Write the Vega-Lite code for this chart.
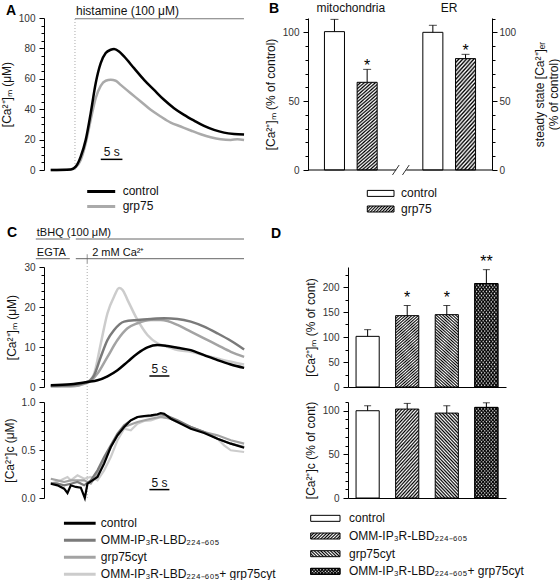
{
"$schema":"https://vega.github.io/schema/vega-lite/v6.json",
"padding":{"left":0,"top":1,"right":0,"bottom":0},
"bounds":"flush",
"spacing":264,
"config":{
 "font":"Liberation Sans",
 "view":{"stroke":null},
 "axis":{"domainColor":"#000","tickColor":"#000","labelColor":"#333","labelFontSize":10,"titleFontSize":12,"titleFontWeight":"normal","titleColor":"#111","grid":false,"labelPadding":4,"tickSize":5,"titlePadding":5,"labelOverlap":false,"labelBound":false},
 "title":{"fontSize":14,"fontWeight":"bold","anchor":"start","frame":"group","color":"#000"},
 "text":{"fontSize":12,"color":"#111"},
 "legend":{"labelFontSize":12,"labelColor":"#111","symbolStrokeWidth":3,"padding":0,"rowPadding":0,"labelLimit":400},
 "style":{
  "hatchB":{"color":{"gradient":"linear","x1":0,"y1":0,"x2":0.2308,"y2":1.1538,"stops":[{"offset":0,"color":"#000"},{"offset":0.016,"color":"#fff"},{"offset":0.031,"color":"#000"},{"offset":0.047,"color":"#fff"},{"offset":0.063,"color":"#000"},{"offset":0.078,"color":"#fff"},{"offset":0.094,"color":"#000"},{"offset":0.109,"color":"#fff"},{"offset":0.125,"color":"#000"},{"offset":0.141,"color":"#fff"},{"offset":0.156,"color":"#000"},{"offset":0.172,"color":"#fff"},{"offset":0.188,"color":"#000"},{"offset":0.203,"color":"#fff"},{"offset":0.219,"color":"#000"},{"offset":0.234,"color":"#fff"},{"offset":0.25,"color":"#000"},{"offset":0.266,"color":"#fff"},{"offset":0.281,"color":"#000"},{"offset":0.297,"color":"#fff"},{"offset":0.313,"color":"#000"},{"offset":0.328,"color":"#fff"},{"offset":0.344,"color":"#000"},{"offset":0.359,"color":"#fff"},{"offset":0.375,"color":"#000"},{"offset":0.391,"color":"#fff"},{"offset":0.406,"color":"#000"},{"offset":0.422,"color":"#fff"},{"offset":0.438,"color":"#000"},{"offset":0.453,"color":"#fff"},{"offset":0.469,"color":"#000"},{"offset":0.484,"color":"#fff"},{"offset":0.5,"color":"#000"},{"offset":0.516,"color":"#fff"},{"offset":0.531,"color":"#000"},{"offset":0.547,"color":"#fff"},{"offset":0.563,"color":"#000"},{"offset":0.578,"color":"#fff"},{"offset":0.594,"color":"#000"},{"offset":0.609,"color":"#fff"},{"offset":0.625,"color":"#000"},{"offset":0.641,"color":"#fff"},{"offset":0.656,"color":"#000"},{"offset":0.672,"color":"#fff"},{"offset":0.688,"color":"#000"},{"offset":0.703,"color":"#fff"},{"offset":0.719,"color":"#000"},{"offset":0.734,"color":"#fff"},{"offset":0.75,"color":"#000"},{"offset":0.766,"color":"#fff"},{"offset":0.781,"color":"#000"},{"offset":0.797,"color":"#fff"},{"offset":0.813,"color":"#000"},{"offset":0.828,"color":"#fff"},{"offset":0.844,"color":"#000"},{"offset":0.859,"color":"#fff"},{"offset":0.875,"color":"#000"},{"offset":0.891,"color":"#fff"},{"offset":0.906,"color":"#000"},{"offset":0.922,"color":"#fff"},{"offset":0.938,"color":"#000"},{"offset":0.953,"color":"#fff"},{"offset":0.969,"color":"#000"},{"offset":0.984,"color":"#fff"},{"offset":1,"color":"#000"}]}},
  "hatchF":{"color":{"gradient":"linear","x1":0,"y1":0,"x2":0.3435,"y2":1.1896,"stops":[{"offset":0,"color":"#000"},{"offset":0.016,"color":"#fff"},{"offset":0.031,"color":"#000"},{"offset":0.047,"color":"#fff"},{"offset":0.063,"color":"#000"},{"offset":0.078,"color":"#fff"},{"offset":0.094,"color":"#000"},{"offset":0.109,"color":"#fff"},{"offset":0.125,"color":"#000"},{"offset":0.141,"color":"#fff"},{"offset":0.156,"color":"#000"},{"offset":0.172,"color":"#fff"},{"offset":0.188,"color":"#000"},{"offset":0.203,"color":"#fff"},{"offset":0.219,"color":"#000"},{"offset":0.234,"color":"#fff"},{"offset":0.25,"color":"#000"},{"offset":0.266,"color":"#fff"},{"offset":0.281,"color":"#000"},{"offset":0.297,"color":"#fff"},{"offset":0.313,"color":"#000"},{"offset":0.328,"color":"#fff"},{"offset":0.344,"color":"#000"},{"offset":0.359,"color":"#fff"},{"offset":0.375,"color":"#000"},{"offset":0.391,"color":"#fff"},{"offset":0.406,"color":"#000"},{"offset":0.422,"color":"#fff"},{"offset":0.438,"color":"#000"},{"offset":0.453,"color":"#fff"},{"offset":0.469,"color":"#000"},{"offset":0.484,"color":"#fff"},{"offset":0.5,"color":"#000"},{"offset":0.516,"color":"#fff"},{"offset":0.531,"color":"#000"},{"offset":0.547,"color":"#fff"},{"offset":0.563,"color":"#000"},{"offset":0.578,"color":"#fff"},{"offset":0.594,"color":"#000"},{"offset":0.609,"color":"#fff"},{"offset":0.625,"color":"#000"},{"offset":0.641,"color":"#fff"},{"offset":0.656,"color":"#000"},{"offset":0.672,"color":"#fff"},{"offset":0.688,"color":"#000"},{"offset":0.703,"color":"#fff"},{"offset":0.719,"color":"#000"},{"offset":0.734,"color":"#fff"},{"offset":0.75,"color":"#000"},{"offset":0.766,"color":"#fff"},{"offset":0.781,"color":"#000"},{"offset":0.797,"color":"#fff"},{"offset":0.813,"color":"#000"},{"offset":0.828,"color":"#fff"},{"offset":0.844,"color":"#000"},{"offset":0.859,"color":"#fff"},{"offset":0.875,"color":"#000"},{"offset":0.891,"color":"#fff"},{"offset":0.906,"color":"#000"},{"offset":0.922,"color":"#fff"},{"offset":0.938,"color":"#000"},{"offset":0.953,"color":"#fff"},{"offset":0.969,"color":"#000"},{"offset":0.984,"color":"#fff"},{"offset":1,"color":"#000"}]}},
  "hatchBk":{"color":{"gradient":"linear","x1":0,"y1":1,"x2":0.3435,"y2":-0.1896,"stops":[{"offset":0,"color":"#000"},{"offset":0.016,"color":"#fff"},{"offset":0.031,"color":"#000"},{"offset":0.047,"color":"#fff"},{"offset":0.063,"color":"#000"},{"offset":0.078,"color":"#fff"},{"offset":0.094,"color":"#000"},{"offset":0.109,"color":"#fff"},{"offset":0.125,"color":"#000"},{"offset":0.141,"color":"#fff"},{"offset":0.156,"color":"#000"},{"offset":0.172,"color":"#fff"},{"offset":0.188,"color":"#000"},{"offset":0.203,"color":"#fff"},{"offset":0.219,"color":"#000"},{"offset":0.234,"color":"#fff"},{"offset":0.25,"color":"#000"},{"offset":0.266,"color":"#fff"},{"offset":0.281,"color":"#000"},{"offset":0.297,"color":"#fff"},{"offset":0.313,"color":"#000"},{"offset":0.328,"color":"#fff"},{"offset":0.344,"color":"#000"},{"offset":0.359,"color":"#fff"},{"offset":0.375,"color":"#000"},{"offset":0.391,"color":"#fff"},{"offset":0.406,"color":"#000"},{"offset":0.422,"color":"#fff"},{"offset":0.438,"color":"#000"},{"offset":0.453,"color":"#fff"},{"offset":0.469,"color":"#000"},{"offset":0.484,"color":"#fff"},{"offset":0.5,"color":"#000"},{"offset":0.516,"color":"#fff"},{"offset":0.531,"color":"#000"},{"offset":0.547,"color":"#fff"},{"offset":0.563,"color":"#000"},{"offset":0.578,"color":"#fff"},{"offset":0.594,"color":"#000"},{"offset":0.609,"color":"#fff"},{"offset":0.625,"color":"#000"},{"offset":0.641,"color":"#fff"},{"offset":0.656,"color":"#000"},{"offset":0.672,"color":"#fff"},{"offset":0.688,"color":"#000"},{"offset":0.703,"color":"#fff"},{"offset":0.719,"color":"#000"},{"offset":0.734,"color":"#fff"},{"offset":0.75,"color":"#000"},{"offset":0.766,"color":"#fff"},{"offset":0.781,"color":"#000"},{"offset":0.797,"color":"#fff"},{"offset":0.813,"color":"#000"},{"offset":0.828,"color":"#fff"},{"offset":0.844,"color":"#000"},{"offset":0.859,"color":"#fff"},{"offset":0.875,"color":"#000"},{"offset":0.891,"color":"#fff"},{"offset":0.906,"color":"#000"},{"offset":0.922,"color":"#fff"},{"offset":0.938,"color":"#000"},{"offset":0.953,"color":"#fff"},{"offset":0.969,"color":"#000"},{"offset":0.984,"color":"#fff"},{"offset":1,"color":"#000"}]}},
  "hatchBkT":{"color":{"gradient":"linear","x1":0,"y1":1,"x2":0.3435,"y2":-0.1896,"stops":[{"offset":0,"color":"#000"},{"offset":0.016,"color":"rgba(0,0,0,0)"},{"offset":0.031,"color":"#000"},{"offset":0.047,"color":"rgba(0,0,0,0)"},{"offset":0.063,"color":"#000"},{"offset":0.078,"color":"rgba(0,0,0,0)"},{"offset":0.094,"color":"#000"},{"offset":0.109,"color":"rgba(0,0,0,0)"},{"offset":0.125,"color":"#000"},{"offset":0.141,"color":"rgba(0,0,0,0)"},{"offset":0.156,"color":"#000"},{"offset":0.172,"color":"rgba(0,0,0,0)"},{"offset":0.188,"color":"#000"},{"offset":0.203,"color":"rgba(0,0,0,0)"},{"offset":0.219,"color":"#000"},{"offset":0.234,"color":"rgba(0,0,0,0)"},{"offset":0.25,"color":"#000"},{"offset":0.266,"color":"rgba(0,0,0,0)"},{"offset":0.281,"color":"#000"},{"offset":0.297,"color":"rgba(0,0,0,0)"},{"offset":0.313,"color":"#000"},{"offset":0.328,"color":"rgba(0,0,0,0)"},{"offset":0.344,"color":"#000"},{"offset":0.359,"color":"rgba(0,0,0,0)"},{"offset":0.375,"color":"#000"},{"offset":0.391,"color":"rgba(0,0,0,0)"},{"offset":0.406,"color":"#000"},{"offset":0.422,"color":"rgba(0,0,0,0)"},{"offset":0.438,"color":"#000"},{"offset":0.453,"color":"rgba(0,0,0,0)"},{"offset":0.469,"color":"#000"},{"offset":0.484,"color":"rgba(0,0,0,0)"},{"offset":0.5,"color":"#000"},{"offset":0.516,"color":"rgba(0,0,0,0)"},{"offset":0.531,"color":"#000"},{"offset":0.547,"color":"rgba(0,0,0,0)"},{"offset":0.563,"color":"#000"},{"offset":0.578,"color":"rgba(0,0,0,0)"},{"offset":0.594,"color":"#000"},{"offset":0.609,"color":"rgba(0,0,0,0)"},{"offset":0.625,"color":"#000"},{"offset":0.641,"color":"rgba(0,0,0,0)"},{"offset":0.656,"color":"#000"},{"offset":0.672,"color":"rgba(0,0,0,0)"},{"offset":0.688,"color":"#000"},{"offset":0.703,"color":"rgba(0,0,0,0)"},{"offset":0.719,"color":"#000"},{"offset":0.734,"color":"rgba(0,0,0,0)"},{"offset":0.75,"color":"#000"},{"offset":0.766,"color":"rgba(0,0,0,0)"},{"offset":0.781,"color":"#000"},{"offset":0.797,"color":"rgba(0,0,0,0)"},{"offset":0.813,"color":"#000"},{"offset":0.828,"color":"rgba(0,0,0,0)"},{"offset":0.844,"color":"#000"},{"offset":0.859,"color":"rgba(0,0,0,0)"},{"offset":0.875,"color":"#000"},{"offset":0.891,"color":"rgba(0,0,0,0)"},{"offset":0.906,"color":"#000"},{"offset":0.922,"color":"rgba(0,0,0,0)"},{"offset":0.938,"color":"#000"},{"offset":0.953,"color":"rgba(0,0,0,0)"},{"offset":0.969,"color":"#000"},{"offset":0.984,"color":"rgba(0,0,0,0)"},{"offset":1,"color":"#000"}]}},
  "legF":{"color":{"gradient":"linear","x1":0,"y1":0,"x2":1.161,"y2":0.2488,"stops":[{"offset":0,"color":"#000"},{"offset":0.045,"color":"#fff"},{"offset":0.091,"color":"#000"},{"offset":0.136,"color":"#fff"},{"offset":0.182,"color":"#000"},{"offset":0.227,"color":"#fff"},{"offset":0.273,"color":"#000"},{"offset":0.318,"color":"#fff"},{"offset":0.364,"color":"#000"},{"offset":0.409,"color":"#fff"},{"offset":0.455,"color":"#000"},{"offset":0.5,"color":"#fff"},{"offset":0.545,"color":"#000"},{"offset":0.591,"color":"#fff"},{"offset":0.636,"color":"#000"},{"offset":0.682,"color":"#fff"},{"offset":0.727,"color":"#000"},{"offset":0.773,"color":"#fff"},{"offset":0.818,"color":"#000"},{"offset":0.864,"color":"#fff"},{"offset":0.909,"color":"#000"},{"offset":0.955,"color":"#fff"},{"offset":1,"color":"#000"}]}},
  "legBk":{"color":{"gradient":"linear","x1":0,"y1":1,"x2":1.161,"y2":0.7512,"stops":[{"offset":0,"color":"#000"},{"offset":0.045,"color":"#fff"},{"offset":0.091,"color":"#000"},{"offset":0.136,"color":"#fff"},{"offset":0.182,"color":"#000"},{"offset":0.227,"color":"#fff"},{"offset":0.273,"color":"#000"},{"offset":0.318,"color":"#fff"},{"offset":0.364,"color":"#000"},{"offset":0.409,"color":"#fff"},{"offset":0.455,"color":"#000"},{"offset":0.5,"color":"#fff"},{"offset":0.545,"color":"#000"},{"offset":0.591,"color":"#fff"},{"offset":0.636,"color":"#000"},{"offset":0.682,"color":"#fff"},{"offset":0.727,"color":"#000"},{"offset":0.773,"color":"#fff"},{"offset":0.818,"color":"#000"},{"offset":0.864,"color":"#fff"},{"offset":0.909,"color":"#000"},{"offset":0.955,"color":"#fff"},{"offset":1,"color":"#000"}]}},
  "legBkT":{"color":{"gradient":"linear","x1":0,"y1":1,"x2":1.161,"y2":0.7512,"stops":[{"offset":0,"color":"#000"},{"offset":0.045,"color":"rgba(0,0,0,0)"},{"offset":0.091,"color":"#000"},{"offset":0.136,"color":"rgba(0,0,0,0)"},{"offset":0.182,"color":"#000"},{"offset":0.227,"color":"rgba(0,0,0,0)"},{"offset":0.273,"color":"#000"},{"offset":0.318,"color":"rgba(0,0,0,0)"},{"offset":0.364,"color":"#000"},{"offset":0.409,"color":"rgba(0,0,0,0)"},{"offset":0.455,"color":"#000"},{"offset":0.5,"color":"rgba(0,0,0,0)"},{"offset":0.545,"color":"#000"},{"offset":0.591,"color":"rgba(0,0,0,0)"},{"offset":0.636,"color":"#000"},{"offset":0.682,"color":"rgba(0,0,0,0)"},{"offset":0.727,"color":"#000"},{"offset":0.773,"color":"rgba(0,0,0,0)"},{"offset":0.818,"color":"#000"},{"offset":0.864,"color":"rgba(0,0,0,0)"},{"offset":0.909,"color":"#000"},{"offset":0.955,"color":"rgba(0,0,0,0)"},{"offset":1,"color":"#000"}]}}
 }
},
"datasets":{
 "A_histamine":[{"agent":"histamine (100 μM)","start":5.6,"end":44.6}],
 "A_scale":[{"t0":11.55,"t1":16.55,"label":"5 s"}],
 "A_traces":[
  {"series":"grp75","time":0,"ca":0},{"series":"grp75","time":4.62,"ca":0.4},{"series":"grp75","time":5.77,"ca":1.8},{"series":"grp75","time":6.92,"ca":6.6},{"series":"grp75","time":8.08,"ca":17.6},{"series":"grp75","time":9.23,"ca":33.0},{"series":"grp75","time":10.38,"ca":47.3},{"series":"grp75","time":11.54,"ca":55.4},{"series":"grp75","time":12.69,"ca":58.7},{"series":"grp75","time":13.85,"ca":59.3},{"series":"grp75","time":15,"ca":58.7},{"series":"grp75","time":16.15,"ca":56.0},{"series":"grp75","time":18.46,"ca":50.5},{"series":"grp75","time":20.77,"ca":45.1},{"series":"grp75","time":23.08,"ca":39.6},{"series":"grp75","time":25.38,"ca":35.2},{"series":"grp75","time":27.69,"ca":31.2},{"series":"grp75","time":30,"ca":28.6},{"series":"grp75","time":32.31,"ca":26.0},{"series":"grp75","time":34.62,"ca":23.5},{"series":"grp75","time":36.92,"ca":21.5},{"series":"grp75","time":39.23,"ca":20.2},{"series":"grp75","time":41.54,"ca":19.8},{"series":"grp75","time":43.08,"ca":20.2},{"series":"grp75","time":44.62,"ca":19.8},
  {"series":"control","time":0,"ca":0},{"series":"control","time":4.62,"ca":0.4},{"series":"control","time":5.77,"ca":2.2},{"series":"control","time":6.92,"ca":8.8},{"series":"control","time":8.08,"ca":19.8},{"series":"control","time":9.23,"ca":37.4},{"series":"control","time":10.38,"ca":57.1},{"series":"control","time":11.54,"ca":70.3},{"series":"control","time":12.69,"ca":76.9},{"series":"control","time":13.85,"ca":79.1},{"series":"control","time":14.62,"ca":79.6},{"series":"control","time":15.77,"ca":78.0},{"series":"control","time":16.92,"ca":74.7},{"series":"control","time":19.23,"ca":67.0},{"series":"control","time":21.54,"ca":59.3},{"series":"control","time":23.85,"ca":52.7},{"series":"control","time":26.15,"ca":46.2},{"series":"control","time":28.46,"ca":40.7},{"series":"control","time":30.77,"ca":36.3},{"series":"control","time":33.08,"ca":32.5},{"series":"control","time":35.38,"ca":29.0},{"series":"control","time":37.69,"ca":26.4},{"series":"control","time":40,"ca":24.6},{"series":"control","time":42.31,"ca":23.7},{"series":"control","time":44.62,"ca":23.3}
 ],
 "C_protocol":[{"row":"drug","label":"tBHQ (100 μM)","start":-3.75,"end":4.75},{"row":"drug","label":"","start":6.25,"end":48.3},{"row":"bath","label":"EGTA","start":-3.75,"end":4.75},{"row":"bath","label":"","start":6.25,"end":48.3}],
 "C_events":[{"row":"bath","label":"2 mM Ca²⁺","time":9.1}],
 "C_scale":[{"t0":24.65,"t1":29.65,"label":"5 s"}],
 "C1_traces":[
  {"series":"both","time":0,"ca":0.17},{"series":"both","time":5,"ca":0.17},{"series":"both","time":9.17,"ca":1.26},{"series":"both","time":10.83,"ca":3.35},{"series":"both","time":12.5,"ca":10.9},{"series":"both","time":14.17,"ca":18.44},{"series":"both","time":15.83,"ca":22.63},{"series":"both","time":17.08,"ca":24.73},{"series":"both","time":17.92,"ca":24.31},{"series":"both","time":19.17,"ca":21.79},{"series":"both","time":21.67,"ca":16.76},{"series":"both","time":24.17,"ca":12.99},{"series":"both","time":26.67,"ca":10.9},{"series":"both","time":29.17,"ca":10.06},{"series":"both","time":31.67,"ca":9.22},{"series":"both","time":35,"ca":8.8},{"series":"both","time":38.33,"ca":7.96},{"series":"both","time":41.67,"ca":7.12},{"series":"both","time":45,"ca":6.29},{"series":"both","time":48.33,"ca":5.62},
  {"series":"grp75cyt","time":0,"ca":0.25},{"series":"grp75cyt","time":5,"ca":0.17},{"series":"grp75cyt","time":9.17,"ca":1.01},{"series":"grp75cyt","time":11.67,"ca":3.35},{"series":"grp75cyt","time":14.17,"ca":7.54},{"series":"grp75cyt","time":16.67,"ca":11.74},{"series":"grp75cyt","time":19.17,"ca":14.67},{"series":"grp75cyt","time":21.67,"ca":15.93},{"series":"grp75cyt","time":25,"ca":16.76},{"series":"grp75cyt","time":27.5,"ca":16.76},{"series":"grp75cyt","time":29.17,"ca":16.51},{"series":"grp75cyt","time":31.67,"ca":15.51},{"series":"grp75cyt","time":35,"ca":13.83},{"series":"grp75cyt","time":38.33,"ca":12.15},{"series":"grp75cyt","time":41.67,"ca":10.48},{"series":"grp75cyt","time":45,"ca":8.8},{"series":"grp75cyt","time":48.33,"ca":7.54},
  {"series":"OMM","time":0,"ca":0.25},{"series":"OMM","time":5,"ca":0.42},{"series":"OMM","time":9.17,"ca":1.26},{"series":"OMM","time":10.83,"ca":2.93},{"series":"OMM","time":12.5,"ca":7.54},{"series":"OMM","time":14.17,"ca":11.74},{"series":"OMM","time":15.83,"ca":14.25},{"series":"OMM","time":18.33,"ca":16.35},{"series":"OMM","time":21.67,"ca":16.76},{"series":"OMM","time":25,"ca":17.02},{"series":"OMM","time":28.33,"ca":17.18},{"series":"OMM","time":31.67,"ca":17.02},{"series":"OMM","time":35,"ca":16.35},{"series":"OMM","time":38.33,"ca":15.09},{"series":"OMM","time":41.67,"ca":13.41},{"series":"OMM","time":45,"ca":11.57},{"series":"OMM","time":48.33,"ca":9.39},
  {"series":"control","time":0,"ca":0.42},{"series":"control","time":5,"ca":0.67},{"series":"control","time":9.17,"ca":1.26},{"series":"control","time":11.67,"ca":1.68},{"series":"control","time":14.17,"ca":2.68},{"series":"control","time":16.67,"ca":4.19},{"series":"control","time":19.17,"ca":6.29},{"series":"control","time":21.67,"ca":8.38},{"series":"control","time":24.17,"ca":9.89},{"series":"control","time":26.67,"ca":10.48},{"series":"control","time":29.17,"ca":10.23},{"series":"control","time":31.67,"ca":9.81},{"series":"control","time":35,"ca":9.22},{"series":"control","time":38.33,"ca":7.96},{"series":"control","time":41.67,"ca":6.71},{"series":"control","time":45,"ca":5.62},{"series":"control","time":48.33,"ca":4.78}
 ],
 "C2_traces":[
  {"series":"both","time":0,"ca":0.149},{"series":"both","time":2.5,"ca":0.184},{"series":"both","time":4.17,"ca":0.219},{"series":"both","time":5,"ca":0.184},{"series":"both","time":6.67,"ca":0.236},{"series":"both","time":8.33,"ca":0.201},{"series":"both","time":10,"ca":0.219},{"series":"both","time":11.67,"ca":0.184},{"series":"both","time":13.33,"ca":0.288},{"series":"both","time":15,"ca":0.427},{"series":"both","time":16.67,"ca":0.601},{"series":"both","time":18.33,"ca":0.722},{"series":"both","time":20,"ca":0.705},{"series":"both","time":21.67,"ca":0.774},{"series":"both","time":23.33,"ca":0.802},{"series":"both","time":25,"ca":0.809},{"series":"both","time":27.5,"ca":0.844},{"series":"both","time":30,"ca":0.826},{"series":"both","time":32.5,"ca":0.774},{"series":"both","time":35,"ca":0.74},{"series":"both","time":38.33,"ca":0.688},{"series":"both","time":41.67,"ca":0.618},{"series":"both","time":43.33,"ca":0.549},{"series":"both","time":45,"ca":0.497},{"series":"both","time":48.33,"ca":0.479},
  {"series":"grp75cyt","time":0,"ca":0.201},{"series":"grp75cyt","time":1.67,"ca":0.184},{"series":"grp75cyt","time":3.33,"ca":0.167},{"series":"grp75cyt","time":5,"ca":0.184},{"series":"grp75cyt","time":6.67,"ca":0.184},{"series":"grp75cyt","time":8.33,"ca":0.184},{"series":"grp75cyt","time":10,"ca":0.149},{"series":"grp75cyt","time":11.67,"ca":0.253},{"series":"grp75cyt","time":13.33,"ca":0.392},{"series":"grp75cyt","time":15,"ca":0.531},{"series":"grp75cyt","time":16.67,"ca":0.653},{"series":"grp75cyt","time":18.33,"ca":0.74},{"series":"grp75cyt","time":21.67,"ca":0.792},{"series":"grp75cyt","time":25,"ca":0.826},{"series":"grp75cyt","time":27.5,"ca":0.844},{"series":"grp75cyt","time":30,"ca":0.826},{"series":"grp75cyt","time":31.67,"ca":0.792},{"series":"grp75cyt","time":35,"ca":0.74},{"series":"grp75cyt","time":38.33,"ca":0.688},{"series":"grp75cyt","time":41.67,"ca":0.653},{"series":"grp75cyt","time":45,"ca":0.601},{"series":"grp75cyt","time":48.33,"ca":0.566},
  {"series":"OMM","time":0,"ca":0.156},{"series":"OMM","time":1.67,"ca":0.149},{"series":"OMM","time":3.33,"ca":0.132},{"series":"OMM","time":5,"ca":0.149},{"series":"OMM","time":6.67,"ca":0.167},{"series":"OMM","time":8.33,"ca":0.132},{"series":"OMM","time":10,"ca":0.184},{"series":"OMM","time":11.67,"ca":0.288},{"series":"OMM","time":13.33,"ca":0.427},{"series":"OMM","time":15,"ca":0.549},{"series":"OMM","time":16.67,"ca":0.67},{"series":"OMM","time":18.33,"ca":0.757},{"series":"OMM","time":20,"ca":0.809},{"series":"OMM","time":21.67,"ca":0.844},{"series":"OMM","time":25,"ca":0.854},{"series":"OMM","time":27.5,"ca":0.872},{"series":"OMM","time":29.17,"ca":0.854},{"series":"OMM","time":31.67,"ca":0.809},{"series":"OMM","time":35,"ca":0.74},{"series":"OMM","time":38.33,"ca":0.688},{"series":"OMM","time":41.67,"ca":0.618},{"series":"OMM","time":45,"ca":0.566},{"series":"OMM","time":48.33,"ca":0.531},
  {"series":"control","time":0,"ca":0.149},{"series":"control","time":1.67,"ca":0.132},{"series":"control","time":3.33,"ca":0.097},{"series":"control","time":4.17,"ca":0.052},{"series":"control","time":5,"ca":0.132},{"series":"control","time":6.25,"ca":0.115},{"series":"control","time":7.5,"ca":0.108},{"series":"control","time":8.5,"ca":0},{"series":"control","time":9.17,"ca":0.149},{"series":"control","time":10.42,"ca":0.184},{"series":"control","time":11.67,"ca":0.219},{"series":"control","time":13.33,"ca":0.358},{"series":"control","time":15,"ca":0.531},{"series":"control","time":16.67,"ca":0.653},{"series":"control","time":18.33,"ca":0.74},{"series":"control","time":20,"ca":0.809},{"series":"control","time":21.67,"ca":0.844},{"series":"control","time":23.33,"ca":0.854},{"series":"control","time":25,"ca":0.861},{"series":"control","time":26.67,"ca":0.872},{"series":"control","time":27.5,"ca":0.885},{"series":"control","time":28.33,"ca":0.878},{"series":"control","time":30,"ca":0.826},{"series":"control","time":31.67,"ca":0.792},{"series":"control","time":35,"ca":0.722},{"series":"control","time":38.33,"ca":0.677},{"series":"control","time":41.67,"ca":0.618},{"series":"control","time":45,"ca":0.566},{"series":"control","time":48.33,"ca":0.524}
 ],
 "B_bars":[{"compartment":"mitochondria","group":"control","value":100.5,"upper":109.4,"sig":""},{"compartment":"mitochondria","group":"grp75","value":63.7,"upper":73.1,"sig":"*"},{"compartment":"ER","group":"control","value":100,"upper":105.1,"sig":""},{"compartment":"ER","group":"grp75","value":80.9,"upper":84.0,"sig":"*"}],
 "B_legend":[{"group":"control","label":"control"},{"group":"grp75","label":"grp75"}],
 "D1_bars":[{"group":"control","value":101.3,"upper":114.7,"sig":""},{"group":"OMM","value":142.7,"upper":163,"sig":"*"},{"group":"grp75cyt","value":144.7,"upper":163,"sig":"*"},{"group":"both","value":207,"upper":234.7,"sig":"**"}],
 "D2_bars":[{"group":"control","value":100,"upper":105.7},{"group":"OMM","value":101.9,"upper":108.4},{"group":"grp75cyt","value":97.3,"upper":105.7},{"group":"both","value":103.8,"upper":109.1}],
 "D_legend":[{"group":"control","label":"control"},{"group":"OMM","label":"OMM-IP₃R-LBD₂₂₄₋₆₀₅"},{"group":"grp75cyt","label":"grp75cyt"},{"group":"both","label":"OMM-IP₃R-LBD₂₂₄₋₆₀₅+ grp75cyt"}]
},
"hconcat":[
 {"vconcat":[
  {"width":203,"height":152,
   "title":{"text":"A","dx":-38,"offset":-13.4},
   "layer":[
    {"data":{"name":"A_histamine"},"mark":{"type":"rule","color":"#aaa","strokeDash":[1,2],"strokeWidth":1},
     "encoding":{"x":{"field":"start","type":"quantitative","scale":{"domain":[-1.55,45.3]},"axis":null},"y":{"datum":0,"type":"quantitative","scale":{"domain":[0,100]},"axis":null},"y2":{"datum":100}}},
    {"data":{"name":"A_histamine"},"mark":{"type":"rule","color":"#777","strokeWidth":1},
     "encoding":{"x":{"field":"start","type":"quantitative","scale":{"domain":[-1.55,45.3]},"axis":null},"x2":{"field":"end"},"y":{"datum":99.5,"type":"quantitative","scale":{"domain":[0,100]},"axis":null}}},
    {"data":{"name":"A_histamine"},"mark":{"type":"text","align":"left","baseline":"alphabetic","dx":1,"dy":-4,"fontSize":12},
     "encoding":{"x":{"field":"start","type":"quantitative","scale":{"domain":[-1.55,45.3]},"axis":null},"y":{"datum":99.5,"type":"quantitative","scale":{"domain":[0,100]},"axis":null},"text":{"field":"agent"}}},
    {"data":{"name":"A_traces"},"mark":{"type":"line","strokeWidth":2.5,"interpolate":"monotone"},
     "encoding":{"x":{"field":"time","type":"quantitative","scale":{"domain":[-1.55,45.3]},"axis":null},
      "y":{"field":"ca","type":"quantitative","scale":{"domain":[0,100]},"axis":{"title":"[Ca²⁺]ₘ (μM)","labelOverlap":false,"values":[0,5,10,15,20,25,30,35,40,45,50,55,60,65,70,75,80,85,90,95,100],"labelExpr":"datum.value % 20 === 0 ? datum.label : ''","tickSize":{"condition":{"test":"datum.value % 20 === 0","value":5},"value":3}}},
      "color":{"field":"series","type":"nominal","scale":{"domain":["control","grp75"],"range":["#000000","#aaaaaa"]},"legend":{"orient":"none","legendX":41.7,"legendY":165.9,"title":null,"symbolType":"stroke","symbolSize":784,"clipHeight":15,"labelOffset":6}}}},
    {"data":{"name":"A_scale"},"mark":{"type":"rule","color":"#000","strokeWidth":1.5},
     "encoding":{"x":{"field":"t0","type":"quantitative","scale":{"domain":[-1.55,45.3]},"axis":null},"x2":{"field":"t1"},"y":{"datum":7,"type":"quantitative","scale":{"domain":[0,100]},"axis":null}}},
    {"data":{"name":"A_scale"},"mark":{"type":"text","align":"left","baseline":"alphabetic","dx":3,"dy":-3,"fontSize":12},
     "encoding":{"x":{"field":"t0","type":"quantitative","scale":{"domain":[-1.55,45.3]},"axis":null},"y":{"datum":7,"type":"quantitative","scale":{"domain":[0,100]},"axis":null},"text":{"field":"label"}}}
   ],
   "resolve":{"scale":{"y":"independent"}}},
  {"width":203,"height":66.7,
   "layer":[
    {"data":{"name":"C_protocol"},"mark":{"type":"rule","color":"#666","strokeWidth":1},
     "encoding":{"x":{"field":"start","type":"quantitative","scale":{"domain":[-1.7,49.05]},"axis":null},"x2":{"field":"end"},"y":{"field":"row","type":"nominal","scale":{"type":"point","domain":["drug","bath"],"range":[54,73.7],"padding":0},"axis":null}}},
    {"data":{"name":"C_protocol"},"transform":[{"filter":"datum.label !== ''"}],"mark":{"type":"text","align":"left","baseline":"alphabetic","dx":1,"dy":-3,"fontSize":11},
     "encoding":{"x":{"field":"start","type":"quantitative","scale":{"domain":[-1.7,49.05]},"axis":null},"y":{"field":"row","type":"nominal","scale":{"type":"point","domain":["drug","bath"],"range":[54,73.7],"padding":0},"axis":null},"text":{"field":"label"}}},
    {"data":{"name":"C_events"},"mark":{"type":"tick","color":"#666","thickness":1,"size":9},
     "encoding":{"x":{"field":"time","type":"quantitative","scale":{"domain":[-1.7,49.05]},"axis":null},"y":{"field":"row","type":"nominal","scale":{"type":"point","domain":["drug","bath"],"range":[54,73.7],"padding":0},"axis":null}}},
    {"data":{"name":"C_events"},"mark":{"type":"text","align":"left","baseline":"alphabetic","dx":5,"dy":-3,"fontSize":11},
     "encoding":{"x":{"field":"time","type":"quantitative","scale":{"domain":[-1.7,49.05]},"axis":null},"y":{"field":"row","type":"nominal","scale":{"type":"point","domain":["drug","bath"],"range":[54,73.7],"padding":0},"axis":null},"text":{"field":"label"}}}
   ]},
  {"width":203,"height":120,
   "title":{"text":"C","dx":-37,"offset":21.7},
   "layer":[
    {"data":{"name":"C_events"},"mark":{"type":"rule","color":"#aaa","strokeDash":[1,2],"strokeWidth":1},
     "encoding":{"x":{"field":"time","type":"quantitative","scale":{"domain":[-1.7,49.05]},"axis":null},"y":{"datum":-3.75,"type":"quantitative","scale":{"domain":[0,30]},"axis":null},"y2":{"datum":31.2}}},
    {"data":{"name":"C1_traces"},"mark":{"type":"line","strokeWidth":2.5,"interpolate":"monotone"},
     "encoding":{"x":{"field":"time","type":"quantitative","scale":{"domain":[-1.7,49.05]},"axis":null},
      "y":{"field":"ca","type":"quantitative","scale":{"domain":[0,30]},"axis":{"title":"[Ca²⁺]ₘ (μM)","labelOverlap":false,"values":[0,2,4,6,8,10,12,14,16,18,20,22,24,26,28,30],"labelExpr":"datum.value % 10 === 0 ? datum.label : ''","tickSize":{"condition":{"test":"datum.value % 10 === 0","value":5},"value":3}}},
      "color":{"field":"series","type":"nominal","scale":{"domain":["control","OMM","grp75cyt","both"],"range":["#000000","#7a7a7a","#a3a3a3","#cccccc"]},"legend":null}}},
    {"data":{"name":"C_scale"},"mark":{"type":"rule","color":"#000","strokeWidth":1.5},
     "encoding":{"x":{"field":"t0","type":"quantitative","scale":{"domain":[-1.7,49.05]},"axis":null},"x2":{"field":"t1"},"y":{"datum":2.75,"type":"quantitative","scale":{"domain":[0,30]},"axis":null}}},
    {"data":{"name":"C_scale"},"mark":{"type":"text","align":"left","baseline":"alphabetic","dx":2,"dy":-3,"fontSize":12},
     "encoding":{"x":{"field":"t0","type":"quantitative","scale":{"domain":[-1.7,49.05]},"axis":null},"y":{"datum":2.75,"type":"quantitative","scale":{"domain":[0,30]},"axis":null},"text":{"field":"label"}}}
   ],
   "resolve":{"scale":{"y":"independent"}}},
  {"width":203,"height":96,
   "layer":[
    {"data":{"name":"C_events"},"mark":{"type":"rule","color":"#aaa","strokeDash":[1,2],"strokeWidth":1},
     "encoding":{"x":{"field":"time","type":"quantitative","scale":{"domain":[-1.7,49.05]},"axis":null},"y":{"datum":0,"type":"quantitative","scale":{"domain":[0,1]},"axis":null},"y2":{"datum":1}}},
    {"data":{"name":"C2_traces"},"mark":{"type":"line","strokeWidth":2.2},
     "encoding":{"x":{"field":"time","type":"quantitative","scale":{"domain":[-1.7,49.05]},"axis":null},
      "y":{"field":"ca","type":"quantitative","scale":{"domain":[0,1]},"axis":{"title":"[Ca²⁺]c (μM)","labelOverlap":false,"values":[0,0.1,0.2,0.3,0.4,0.5,0.6,0.7,0.8,0.9,1],"format":".1f","labelExpr":"round(datum.value*10) % 5 === 0 ? datum.label : ''","tickSize":{"condition":{"test":"round(datum.value*10) % 5 === 0","value":5},"value":3}}},
      "color":{"field":"series","type":"nominal","scale":{"domain":["control","OMM","grp75cyt","both"],"range":["#000000","#7a7a7a","#a3a3a3","#cccccc"]},"legend":{"orient":"none","legendX":18.3,"legendY":113.25,"title":null,"symbolType":"stroke","symbolSize":1005,"clipHeight":16.1,"labelOffset":3.5,"labelLimit":400,"labelExpr":"datum.label === 'OMM' ? 'OMM-IP₃R-LBD₂₂₄₋₆₀₅' : datum.label === 'both' ? 'OMM-IP₃R-LBD₂₂₄₋₆₀₅+ grp75cyt' : datum.label"}}}},
    {"data":{"name":"C_scale"},"mark":{"type":"rule","color":"#000","strokeWidth":1.5},
     "encoding":{"x":{"field":"t0","type":"quantitative","scale":{"domain":[-1.7,49.05]},"axis":null},"x2":{"field":"t1"},"y":{"datum":0.0875,"type":"quantitative","scale":{"domain":[0,1]},"axis":null}}},
    {"data":{"name":"C_scale"},"mark":{"type":"text","align":"left","baseline":"alphabetic","dx":2,"dy":-3,"fontSize":12},
     "encoding":{"x":{"field":"t0","type":"quantitative","scale":{"domain":[-1.7,49.05]},"axis":null},"y":{"datum":0.0875,"type":"quantitative","scale":{"domain":[0,1]},"axis":null},"text":{"field":"label"}}}
   ],
   "resolve":{"scale":{"y":"independent"}}}
 ],"bounds":"flush","spacing":15,"resolve":{"scale":{"color":"independent"},"legend":{"color":"independent"}}},
 {"vconcat":[
  {"width":184,"height":152,
   "title":{"text":"B","dx":-39,"offset":-14.4},
   "data":{"name":"B_bars"},
   "layer":[
    {"transform":[{"filter":"datum.compartment === 'mitochondria'"}],
     "encoding":{
      "x":{"field":"compartment","type":"nominal","scale":{"domain":["mitochondria","ER"],"paddingInner":0.336,"paddingOuter":0.103},"axis":{"orient":"top","domain":false,"ticks":false,"labelAngle":0,"labelFontSize":12,"labelColor":"#111","labelPadding":3.3,"title":null}},
      "xOffset":{"field":"group","type":"nominal","scale":{"domain":["control","grp75"],"paddingInner":0.387,"paddingOuter":0.193}},
      "y":{"field":"value","type":"quantitative","scale":{"domain":[0,110.4]},"axis":{"title":"[Ca²⁺]ₘ (% of control)","labelOverlap":false,"values":[0,10,20,30,40,50,60,70,80,90,100,110],"labelExpr":"datum.value % 50 === 0 ? datum.label : ''","tickSize":{"condition":{"test":"datum.value % 50 === 0","value":5},"value":3}}}},
     "layer":[
      {"transform":[{"filter":"datum.group === 'control'"}],"mark":{"type":"bar","fill":"#fff","stroke":"#000","strokeWidth":1}},
      {"transform":[{"filter":"datum.group === 'grp75'"}],"mark":{"type":"bar","style":"hatchB","stroke":"#000","strokeWidth":1}},
      {"mark":{"type":"rule","color":"#000","strokeWidth":1},"encoding":{"y2":{"field":"upper"}}},
      {"mark":{"type":"tick","color":"#000","thickness":1,"size":8},"encoding":{"y":{"field":"upper","type":"quantitative"}}},
      {"mark":{"type":"text","fontSize":16,"baseline":"alphabetic","dy":1.5,"color":"#000"},"encoding":{"y":{"field":"upper","type":"quantitative"},"text":{"field":"sig"}}}
     ]},
    {"transform":[{"filter":"datum.compartment === 'ER'"}],
     "encoding":{
      "x":{"field":"compartment","type":"nominal","scale":{"domain":["mitochondria","ER"],"paddingInner":0.336,"paddingOuter":0.103}},
      "xOffset":{"field":"group","type":"nominal","scale":{"domain":["control","grp75"],"paddingInner":0.387,"paddingOuter":0.193}},
      "y":{"field":"value","type":"quantitative","scale":{"domain":[0,110.4]},"axis":{"orient":"right","title":["steady state [Ca²⁺]ₑᵣ","(% of control)"],"titleAngle":270,"titleBaseline":"top","labelPadding":2,"labelOverlap":false,"values":[0,10,20,30,40,50,60,70,80,90,100,110],"labelExpr":"datum.value % 50 === 0 ? datum.label : ''","tickSize":{"condition":{"test":"datum.value % 50 === 0","value":5},"value":3}}}},
     "layer":[
      {"transform":[{"filter":"datum.group === 'control'"}],"mark":{"type":"bar","fill":"#fff","stroke":"#000","strokeWidth":1}},
      {"transform":[{"filter":"datum.group === 'grp75'"}],"mark":{"type":"bar","style":"hatchB","stroke":"#000","strokeWidth":1}},
      {"mark":{"type":"rule","color":"#000","strokeWidth":1},"encoding":{"y2":{"field":"upper"}}},
      {"mark":{"type":"tick","color":"#000","thickness":1,"size":8},"encoding":{"y":{"field":"upper","type":"quantitative"}}},
      {"mark":{"type":"text","fontSize":16,"baseline":"alphabetic","dy":1.5,"color":"#000"},"encoding":{"y":{"field":"upper","type":"quantitative"},"text":{"field":"sig"}}}
     ]},
    {"data":{"values":[{}]},
     "encoding":{"y":{"datum":0,"type":"quantitative","scale":{"domain":[0,110.4]},"axis":null}},
     "layer":[
      {"mark":{"type":"rule","color":"#000","strokeWidth":1},"encoding":{"x":{"datum":"mitochondria","type":"nominal","bandPosition":-0.155},"x2":{"datum":"mitochondria","bandPosition":1.195}}},
      {"mark":{"type":"rule","color":"#000","strokeWidth":1},"encoding":{"x":{"datum":"ER","type":"nominal","bandPosition":-0.158},"x2":{"datum":"ER","bandPosition":1.161}}},
      {"mark":{"type":"rule","color":"#333","strokeWidth":1},"encoding":{"x":{"datum":"mitochondria","type":"nominal","bandPosition":1.138},"x2":{"datum":"mitochondria","bandPosition":1.24},"y":{"datum":-3.6,"type":"quantitative","scale":{"domain":[0,110.4]},"axis":null},"y2":{"datum":3.6}}},
      {"mark":{"type":"rule","color":"#333","strokeWidth":1},"encoding":{"x":{"datum":"mitochondria","type":"nominal","bandPosition":1.291},"x2":{"datum":"mitochondria","bandPosition":1.394},"y":{"datum":-3.6,"type":"quantitative","scale":{"domain":[0,110.4]},"axis":null},"y2":{"datum":3.6}}}
     ]}
   ],
   "resolve":{"scale":{"y":"independent"}}},
  {"width":184,"height":66.7,
   "data":{"name":"B_legend"},
   "encoding":{"y":{"field":"group","type":"nominal","scale":{"domain":["control","grp75"],"range":[0.6,31.8],"paddingInner":0,"paddingOuter":0},"axis":null}},
   "layer":[
    {"transform":[{"filter":"datum.group === 'control'"}],"mark":{"type":"bar","orient":"horizontal","height":6,"fill":"#fff","stroke":"#000","strokeWidth":1},"encoding":{"x":{"value":59.3},"x2":{"value":86}}},
    {"transform":[{"filter":"datum.group === 'grp75'"}],"mark":{"type":"bar","orient":"horizontal","height":6,"style":"legF","stroke":"#000","strokeWidth":1},"encoding":{"x":{"value":59.3},"x2":{"value":86}}},
    {"mark":{"type":"text","align":"left","baseline":"middle","fontSize":12},"encoding":{"x":{"value":93},"text":{"field":"label"}}}
   ]},
  {"hconcat":[
   {"width":1,"height":1,"data":{"values":[{}]},"mark":{"type":"point","opacity":0}},
   {"vconcat":[
    {"width":158,"height":120,
     "title":{"text":"D","dx":-77,"offset":12.7},
     "data":{"name":"D1_bars"},
     "encoding":{
      "x":{"field":"group","type":"nominal","scale":{"domain":["control","OMM","grp75cyt","both"],"paddingInner":0.415,"paddingOuter":0.2035},"axis":{"labels":false,"ticks":false,"title":null,"domain":true}},
      "y":{"field":"value","type":"quantitative","scale":{"domain":[0,240]},"axis":{"title":"[Ca²⁺]ₘ (% of cont)","labelOverlap":false,"values":[0,25,50,75,100,125,150,175,200,225],"labelExpr":"datum.value % 50 === 0 ? datum.label : ''","tickSize":{"condition":{"test":"datum.value % 50 === 0","value":5},"value":3}}}},
     "layer":[
      {"transform":[{"filter":"datum.group === 'control'"}],"mark":{"type":"bar","fill":"#fff","stroke":"#000","strokeWidth":1}},
      {"transform":[{"filter":"datum.group === 'OMM'"}],"mark":{"type":"bar","style":"hatchF","stroke":"#000","strokeWidth":1}},
      {"transform":[{"filter":"datum.group === 'grp75cyt'"}],"mark":{"type":"bar","style":"hatchBk","stroke":"#000","strokeWidth":1}},
      {"transform":[{"filter":"datum.group === 'both'"}],"mark":{"type":"bar","style":"hatchF","stroke":"#000","strokeWidth":1}},
      {"transform":[{"filter":"datum.group === 'both'"}],"mark":{"type":"bar","style":"hatchBkT","stroke":"#000","strokeWidth":1}},
      {"mark":{"type":"rule","color":"#000","strokeWidth":1},"encoding":{"y2":{"field":"upper"}}},
      {"mark":{"type":"tick","color":"#000","thickness":1,"size":7},"encoding":{"y":{"field":"upper","type":"quantitative"}}},
      {"mark":{"type":"text","fontSize":16,"baseline":"alphabetic","dy":-2.5,"color":"#000"},"encoding":{"y":{"field":"upper","type":"quantitative"},"text":{"field":"sig"}}}
     ]},
    {"width":158,"height":96,
     "data":{"name":"D2_bars"},
     "encoding":{
      "x":{"field":"group","type":"nominal","scale":{"domain":["control","OMM","grp75cyt","both"],"paddingInner":0.415,"paddingOuter":0.2035},"axis":{"labels":false,"ticks":false,"title":null,"domain":true}},
      "y":{"field":"value","type":"quantitative","scale":{"domain":[0,110]},"axis":{"title":"[Ca²⁺]c (% of cont)","labelOverlap":false,"values":[0,10,20,30,40,50,60,70,80,90,100,110],"labelExpr":"datum.value % 50 === 0 ? datum.label : ''","tickSize":{"condition":{"test":"datum.value % 50 === 0","value":5},"value":3}}}},
     "layer":[
      {"transform":[{"filter":"datum.group === 'control'"}],"mark":{"type":"bar","fill":"#fff","stroke":"#000","strokeWidth":1}},
      {"transform":[{"filter":"datum.group === 'OMM'"}],"mark":{"type":"bar","style":"hatchF","stroke":"#000","strokeWidth":1}},
      {"transform":[{"filter":"datum.group === 'grp75cyt'"}],"mark":{"type":"bar","style":"hatchBk","stroke":"#000","strokeWidth":1}},
      {"transform":[{"filter":"datum.group === 'both'"}],"mark":{"type":"bar","style":"hatchF","stroke":"#000","strokeWidth":1}},
      {"transform":[{"filter":"datum.group === 'both'"}],"mark":{"type":"bar","style":"hatchBkT","stroke":"#000","strokeWidth":1}},
      {"mark":{"type":"rule","color":"#000","strokeWidth":1},"encoding":{"y2":{"field":"upper"}}},
      {"mark":{"type":"tick","color":"#000","thickness":1,"size":7},"encoding":{"y":{"field":"upper","type":"quantitative"}}}
     ]},
    {"width":158,"height":70,
     "data":{"name":"D_legend"},
     "encoding":{"y":{"field":"group","type":"nominal","scale":{"domain":["control","OMM","grp75cyt","both"],"range":[-3.5,67.2],"paddingInner":0,"paddingOuter":0},"axis":null}},
     "layer":[
      {"transform":[{"filter":"datum.group === 'control'"}],"mark":{"type":"bar","orient":"horizontal","height":6,"fill":"#fff","stroke":"#000","strokeWidth":1},"encoding":{"x":{"value":-37.3},"x2":{"value":-8}}},
      {"transform":[{"filter":"datum.group === 'OMM'"}],"mark":{"type":"bar","orient":"horizontal","height":6,"style":"legF","stroke":"#000","strokeWidth":1},"encoding":{"x":{"value":-37.3},"x2":{"value":-8}}},
      {"transform":[{"filter":"datum.group === 'grp75cyt'"}],"mark":{"type":"bar","orient":"horizontal","height":6,"style":"legBk","stroke":"#000","strokeWidth":1},"encoding":{"x":{"value":-37.3},"x2":{"value":-8}}},
      {"transform":[{"filter":"datum.group === 'both'"}],"mark":{"type":"bar","orient":"horizontal","height":6,"style":"legF","stroke":"#000","strokeWidth":1},"encoding":{"x":{"value":-37.3},"x2":{"value":-8}}},
      {"transform":[{"filter":"datum.group === 'both'"}],"mark":{"type":"bar","orient":"horizontal","height":6,"style":"legBkT","stroke":"#000","strokeWidth":1},"encoding":{"x":{"value":-37.3},"x2":{"value":-8}}},
      {"mark":{"type":"text","align":"left","baseline":"middle","fontSize":12},"encoding":{"x":{"value":1},"text":{"field":"label"}}}
     ]}
   ],"bounds":"flush","spacing":15}
  ],"bounds":"flush","spacing":39}
 ],"bounds":"flush","spacing":15}
]
}
